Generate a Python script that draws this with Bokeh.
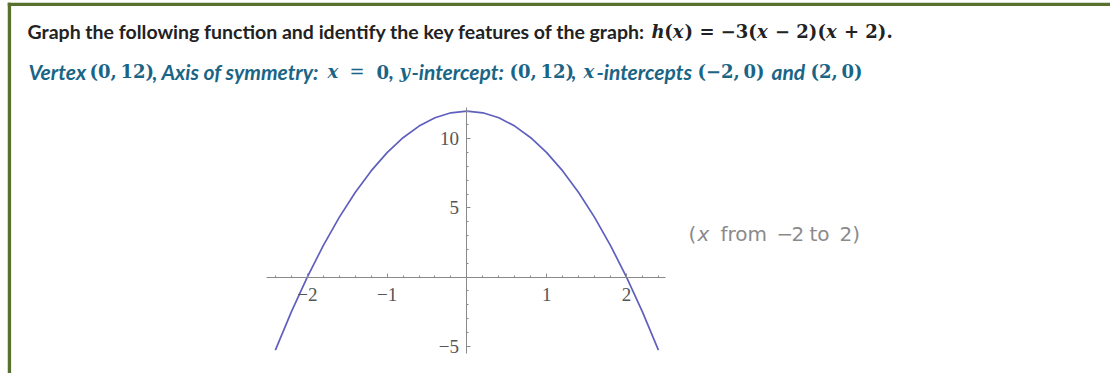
from bokeh.plotting import figure
from bokeh.models import Range1d, FixedTicker, CustomJSTickFormatter, Label, Span
from bokeh.embed import file_html
from bokeh.resources import INLINE

# ---------------- data ----------------
x_vals = [-2.4, -2.2, -2.0, -1.8, -1.6, -1.4, -1.2, -1.0, -0.8, -0.6, -0.4, -0.2, 0.0,
          0.2, 0.4, 0.6, 0.8, 1.0, 1.2, 1.4, 1.6, 1.8, 2.0, 2.2, 2.4]
h_vals = [-5.28, -2.52, 0.0, 2.28, 4.32, 6.12, 7.68, 9.0, 10.08, 10.92, 11.52, 11.88, 12.0,
          11.88, 11.52, 10.92, 10.08, 9.0, 7.68, 6.12, 4.32, 2.28, 0.0, -2.52, -5.28]
x_major_ticks = [-2, -1, 1, 2]
x_minor_ticks = [-2.4, -2.2, -1.8, -1.6, -1.4, -1.2, -0.8, -0.6, -0.4, -0.2,
                 0.2, 0.4, 0.6, 0.8, 1.2, 1.4, 1.6, 1.8, 2.2, 2.4]
y_major_ticks = [-5, 5, 10]
y_minor_ticks = [-4, -3, -2, -1, 1, 2, 3, 4, 6, 7, 8, 9, 11, 12]
x_axis_extent = (-2.51, 2.49)
y_axis_extent = (-5.52, 12.26)

# ---------------- layout constants (page pixels) ----------------
W, H = 1103, 371
ORX, ORY = 7, 2            # page position of figure's top-left
PX_X0, PX_PER_X = 466.4, 79.8
PX_Y0, PX_PER_Y = 276.6, 13.83

def X(px):
    return (px - PX_X0) / PX_PER_X

def Y(py):
    return (PX_Y0 - py) / PX_PER_Y

p = figure(width=W, height=H,
           x_range=Range1d(X(ORX), X(ORX + W)),
           y_range=Range1d(Y(ORY + H), Y(ORY)),
           output_backend="svg", toolbar_location=None,
           min_border=0, margin=(ORY, 0, 0, ORX))
p.grid.visible = False
p.outline_line_color = None
p.background_fill_color = "white"
p.border_fill_color = "white"

AX_COL = "#8a8a8a"
LBL_COL = "#555555"
fmt = CustomJSTickFormatter(code="return (tick < 0 ? '\\u2212' : '') + Math.abs(tick);")

xa = p.xaxis[0]
xa.fixed_location = 0
xa.ticker = FixedTicker(ticks=x_major_ticks, minor_ticks=x_minor_ticks)
xa.bounds = x_axis_extent
xa.formatter = fmt
ya = p.yaxis[0]
ya.fixed_location = 0
ya.ticker = FixedTicker(ticks=y_major_ticks, minor_ticks=y_minor_ticks)
ya.bounds = y_axis_extent
ya.formatter = fmt
for ax in (xa, ya):
    ax.axis_line_color = AX_COL
    ax.axis_line_width = 1
    ax.major_tick_line_color = AX_COL
    ax.minor_tick_line_color = AX_COL
    ax.major_tick_in = 4
    ax.major_tick_out = 0
    ax.minor_tick_in = 2
    ax.minor_tick_out = 0
    ax.major_label_text_font = "Liberation Serif"
    ax.major_label_text_font_size = "19px"
    ax.major_label_text_color = LBL_COL
xa.major_label_standoff = 11
ya.major_label_standoff = 8

p.line(x_vals, h_vals, line_color="#5f5fbf", line_width=1.7)

# ---------------- border ----------------
BORDER = "#58712f"
p.add_layout(Span(location=Y(3.8), dimension="width", line_color=BORDER, line_width=3.6))
p.add_layout(Span(location=X(8.8), dimension="height", line_color=BORDER, line_width=3.6))

# ---------------- texts ----------------
DARK = "#222222"
TEAL = "#1a6585"
GREY = "#8a8a8a"
TS = "\u2009"   # thin space
FONTS = {
    "sb": ("Lato", "bold", "19.5px"),
    "sbi": ("Lato", "bold italic", "21px"),
    "mb": ("DejaVu Serif", "bold", "18px"),
    "mbi": ("DejaVu Serif", "bold italic", "18px"),
    "mr": ("DejaVu Serif", "normal", "18px"),
    "g": ("DejaVu Sans", "normal", "20px"),
    "gi": ("DejaVu Sans", "italic", "20px"),
}

line1 = [
    ("Graph the following function and identify the key features of the graph:", 27, "sb"),
    ("h", 651, "mbi"), ("(", 663.8, "mb"), ("x", 672.3, "mbi"),
    (") = \u22123(", 684.1, "mb"), ("x", 756.4, "mbi"), ("\u2212 2)(", 774.5, "mb"),
    ("x", 825.4, "mbi"), ("+ 2).", 843.5, "mb"),
]
line2 = [
    ("Vertex", 28, "sbi"), ("(0," + TS + "12)", 89, "mb"), (", Axis of symmetry:", 152, "sbi"),
    ("x", 327, "mbi"), ("=", 349, "mr"), ("0", 376, "mb"), (",", 388.5, "sbi"),
    ("y", 399, "mbi"), ("-intercept:", 411, "sbi"), ("(0," + TS + "12)", 509, "mb"),
    (",", 571, "sbi"), ("x", 583, "mbi"), ("-intercepts", 596, "sbi"),
    ("(\u22122," + TS + "0)", 697, "mb"), ("and", 771, "sbi"), ("(2," + TS + "0)", 810, "mb"),
]
note = [
    ("(", 688, "g"), ("x", 697, "gi"), ("from", 720, "g"), ("\u2212", 776, "g"),
    ("2", 791, "g"), ("to", 809, "g"), ("2)", 839, "g"),
]

def put(segs, mid_py, color):
    for txt, px, kind in segs:
        font, style, size = FONTS[kind]
        p.add_layout(Label(x=X(px), y=Y(mid_py), text=txt, text_font=font,
                           text_font_style=style, text_font_size=size,
                           text_color=color, text_align="left",
                           text_baseline="middle"))

put(line1, 31, DARK)
put(line2, 71, TEAL)
put(note, 233, GREY)

open("out.html", "w").write(file_html(p, INLINE))
